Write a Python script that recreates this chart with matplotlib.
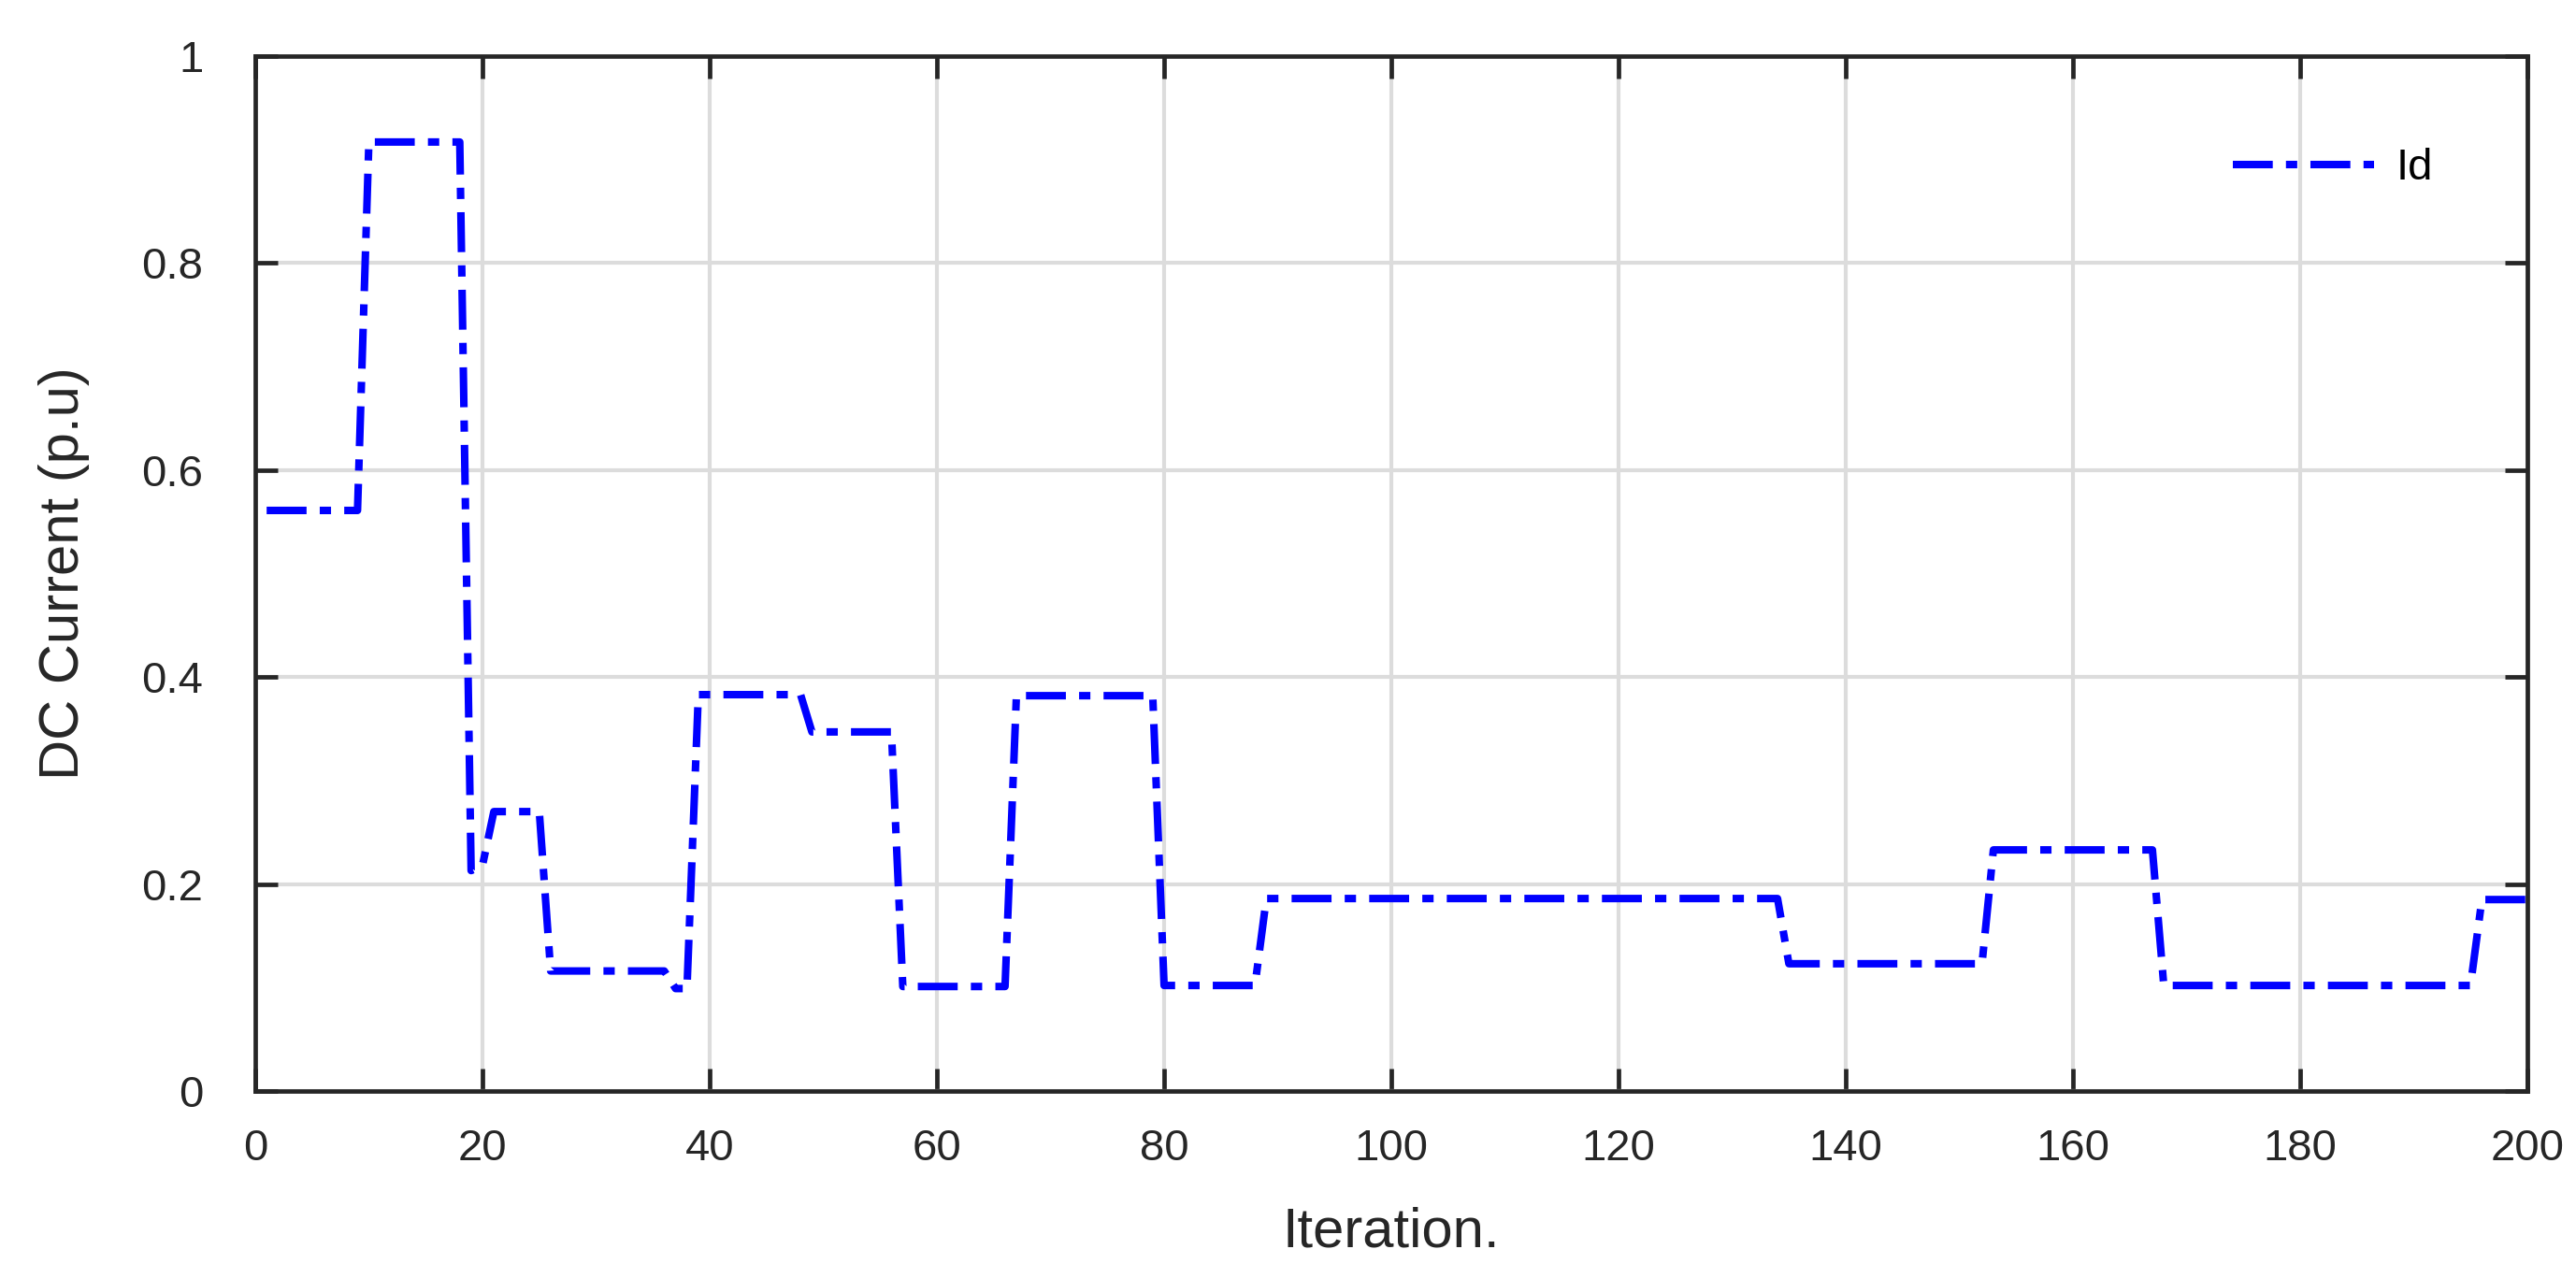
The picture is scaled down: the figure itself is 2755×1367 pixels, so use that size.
import matplotlib
matplotlib.use("Agg")
from matplotlib import pyplot as plt

# breakpoints of the Id trace (iteration, p.u.)
iteration = [1, 9, 10, 18, 19, 20, 21, 25, 26, 36, 37, 38, 39, 48, 49, 56, 57,
             66, 67, 79, 80, 88, 89, 134, 135, 152, 153, 167, 168, 195, 196, 200]
id_current = [0.561, 0.561, 0.917, 0.917, 0.213, 0.218, 0.270, 0.270, 0.116,
              0.116, 0.099, 0.099, 0.383, 0.383, 0.347, 0.347, 0.101, 0.101,
              0.382, 0.382, 0.102, 0.102, 0.186, 0.186, 0.123, 0.123, 0.233,
              0.233, 0.102, 0.102, 0.185, 0.185]

xticks = [0, 20, 40, 60, 80, 100, 120, 140, 160, 180, 200]
yticks = [0, 0.2, 0.4, 0.6, 0.8, 1]
ytick_labels = ['0', '0.2', '0.4', '0.6', '0.8', '1']

plt.rcParams['font.family'] = ['Liberation Sans', 'DejaVu Sans']
dark = '#262626'

fig = plt.figure(figsize=(27.55, 13.67), dpi=100)
ax = fig.add_axes([0.0991, 0.1463, 0.8820, 0.8098])

ax.plot(iteration, id_current, color='#0000ff', lw=5.8,
        linestyle=(0, (5.3, 1.75, 1.5, 1.75)), label='Id')

ax.set_xlim(0, 200)
ax.set_ylim(0, 1)
ax.set_xticks(xticks)
ax.set_yticks(yticks)
ax.set_yticklabels(ytick_labels)
ax.grid(True, color='#dcdcdc', lw=3)
ax.set_axisbelow(True)

for s in ax.spines.values():
    s.set_color(dark)
    s.set_linewidth(3.4)
ax.tick_params(axis='both', direction='in', length=17, width=3.4, color=dark,
               labelcolor=dark, labelsize=34, top=True, right=True)
ax.tick_params(axis='x', pad=29)
ax.tick_params(axis='y', pad=40)

ax.set_xlabel('Iteration.', fontsize=43, color=dark, labelpad=28)
ax.set_ylabel('DC Current (p.u)', fontsize=43, color=dark, labelpad=40)

leg = ax.legend(loc='center left', bbox_to_anchor=(0.8668, 0.8683),
                bbox_transform=fig.transFigure, frameon=False, fontsize=34,
                handlelength=3.2, handletextpad=0.5, borderpad=0,
                borderaxespad=0)

fig.savefig('out.png', dpi=100)
